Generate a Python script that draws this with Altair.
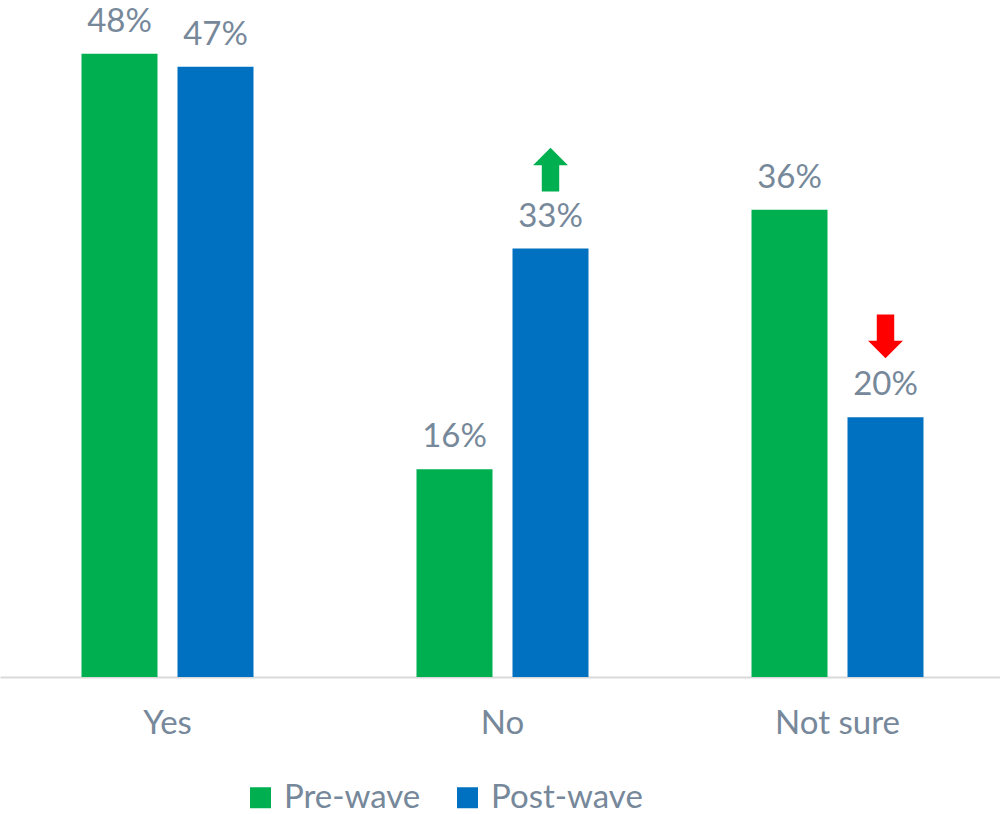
import altair as alt
import pandas as pd

categories = ["Yes", "No", "Not sure"]
series = ["Pre-wave", "Post-wave"]
pre_wave = [48, 16, 36]
post_wave = [47, 33, 20]

arrow_categories = ["No", "Not sure"]
arrow_dirs = ["up", "down"]

rows = []
for c, a, b in zip(categories, pre_wave, post_wave):
    rows.append({"category": c, "series": "Pre-wave", "value": a, "label": f"{a}%"})
    rows.append({"category": c, "series": "Post-wave", "value": b, "label": f"{b}%"})
df = pd.DataFrame(rows)

post_lookup = dict(zip(categories, post_wave))
arrows = pd.DataFrame({
    "category": arrow_categories,
    "series": ["Post-wave"] * len(arrow_categories),
    "value": [post_lookup[c] for c in arrow_categories],
    "dir": arrow_dirs,
})

TEXT = "#76889A"
FONT = "Lato"
UP = "M0,-1 L0.8,-0.2 L0.4,-0.2 L0.4,1 L-0.4,1 L-0.4,-0.2 L-0.8,-0.2 Z"
DOWN = "M0,1 L0.8,0.2 L0.4,0.2 L0.4,-1 L-0.4,-1 L-0.4,0.2 L-0.8,0.2 Z"

x = alt.X("category:N", sort=categories, title=None,
          scale=alt.Scale(paddingInner=0, paddingOuter=0, range=[0, 1005]),
          axis=alt.Axis(labelAngle=0, ticks=False, labelFontSize=33, labelColor=TEXT,
                        labelFont=FONT, labelPadding=30, domainColor="#D9D9D9",
                        domainWidth=2, grid=False))
xo = alt.XOffset("series:N", sort=series,
                 scale=alt.Scale(paddingInner=0.2083, paddingOuter=0.849))
y = alt.Y("value:Q", scale=alt.Scale(domain=[0, 52.15], nice=False), axis=None)

base = alt.Chart(df).encode(x=x, xOffset=xo, y=y)

bars = base.mark_bar().encode(
    color=alt.Color("series:N", sort=series,
                    scale=alt.Scale(domain=series, range=["#00B050", "#0070C0"]),
                    legend=alt.Legend(orient="none", legendX=244, legendY=781,
                                      direction="horizontal", title=None,
                                      labelFontSize=33, labelColor=TEXT, labelFont=FONT,
                                      symbolType="square", symbolSize=441,
                                      symbolStrokeWidth=0, labelOffset=7,
                                      columnPadding=30))
)

labels = base.mark_text(baseline="alphabetic", dy=-22, fontSize=33, font=FONT,
                        color=TEXT).encode(text="label:N")

arrow_base = alt.Chart(arrows).encode(
    x=alt.X("category:N", sort=categories),
    xOffset=alt.XOffset("series:N", sort=series),
    y=alt.Y("value:Q"),
)
up = arrow_base.transform_filter(alt.datum.dir == "up").mark_point(
    shape=UP, filled=True, size=1900, color="#00B050", opacity=1, yOffset=-79, strokeWidth=0)
down = arrow_base.transform_filter(alt.datum.dir == "down").mark_point(
    shape=DOWN, filled=True, size=1900, color="#FF0000", opacity=1, yOffset=-81, strokeWidth=0)

chart = alt.layer(bars, labels, up, down).properties(
    width=1000, height=677,
    autosize=alt.AutoSizeParams(type="none"),
    padding={"left": 0, "top": 0, "right": 0, "bottom": 137},
).configure_view(stroke=None)

chart.save("out.html", embed_options={"renderer": "svg", "actions": False})
